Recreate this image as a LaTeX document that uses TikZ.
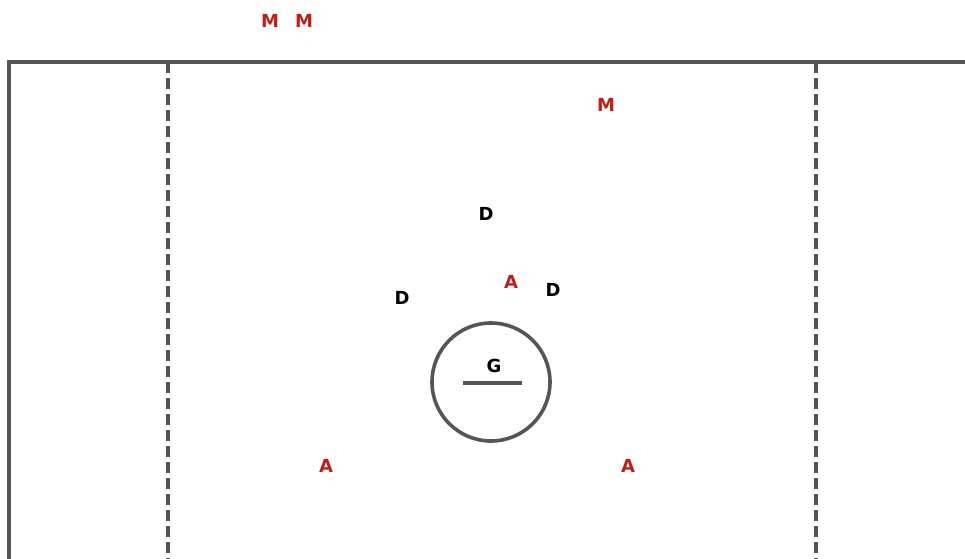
\documentclass[tikz,border=0pt]{standalone}
\usepackage{fontspec}
\setmainfont{DejaVu Sans}
\usepackage{xcolor}
\usetikzlibrary{positioning}

\definecolor{fieldgray}{HTML}{555555}
\definecolor{attackred}{HTML}{C21E17}

\begin{document}
\begin{tikzpicture}[
  x=1pt, y=-1pt,
  fieldline/.style={draw=fieldgray, line width=3.6pt},
  wingline/.style={draw=fieldgray, line width=3.4pt, dash pattern=on 11pt off 5pt},
  player/.style={font=\fontsize{18}{20}\selectfont\bfseries, inner sep=0pt},
  red team/.style={player, text=attackred},
  blue team/.style={player, text=black},
  crease/.style={draw=fieldgray, line width=3.6pt, circle,
                 minimum size=118pt, inner sep=0pt}
]
\useasboundingbox (0,0) rectangle (965,558);

% field lines
\draw[fieldline] (9,560) -- (9,62) -- (966,62);
\draw[wingline] (168,62) -- (168,560);
\draw[wingline] (816,62) -- (816,560);

% goal crease
\node[crease] (goal) at (491,382) {};
\draw[fieldline, line width=3.4pt] ([xshift=-28pt,yshift=-1pt]goal.center) -- ([xshift=31pt,yshift=-1pt]goal.center);
\node[blue team] (g) at (494,366) {G};

% middies
\node[red team] (m1) at (270,21) {M};
\node[red team] (m2) at (304,21) {M};
\node[red team] (m3) at (606,105) {M};

% defense
\node[blue team] (d1) at (486,214) {D};
\node[blue team] (d2) at (402,298) {D};
\node[blue team] (d3) at (553,290) {D};

% attack
\node[red team] (a1) at (511,282) {A};
\node[red team] (a2) at (326,466) {A};
\node[red team] (a3) at (628,466) {A};
\end{tikzpicture}
\end{document}
